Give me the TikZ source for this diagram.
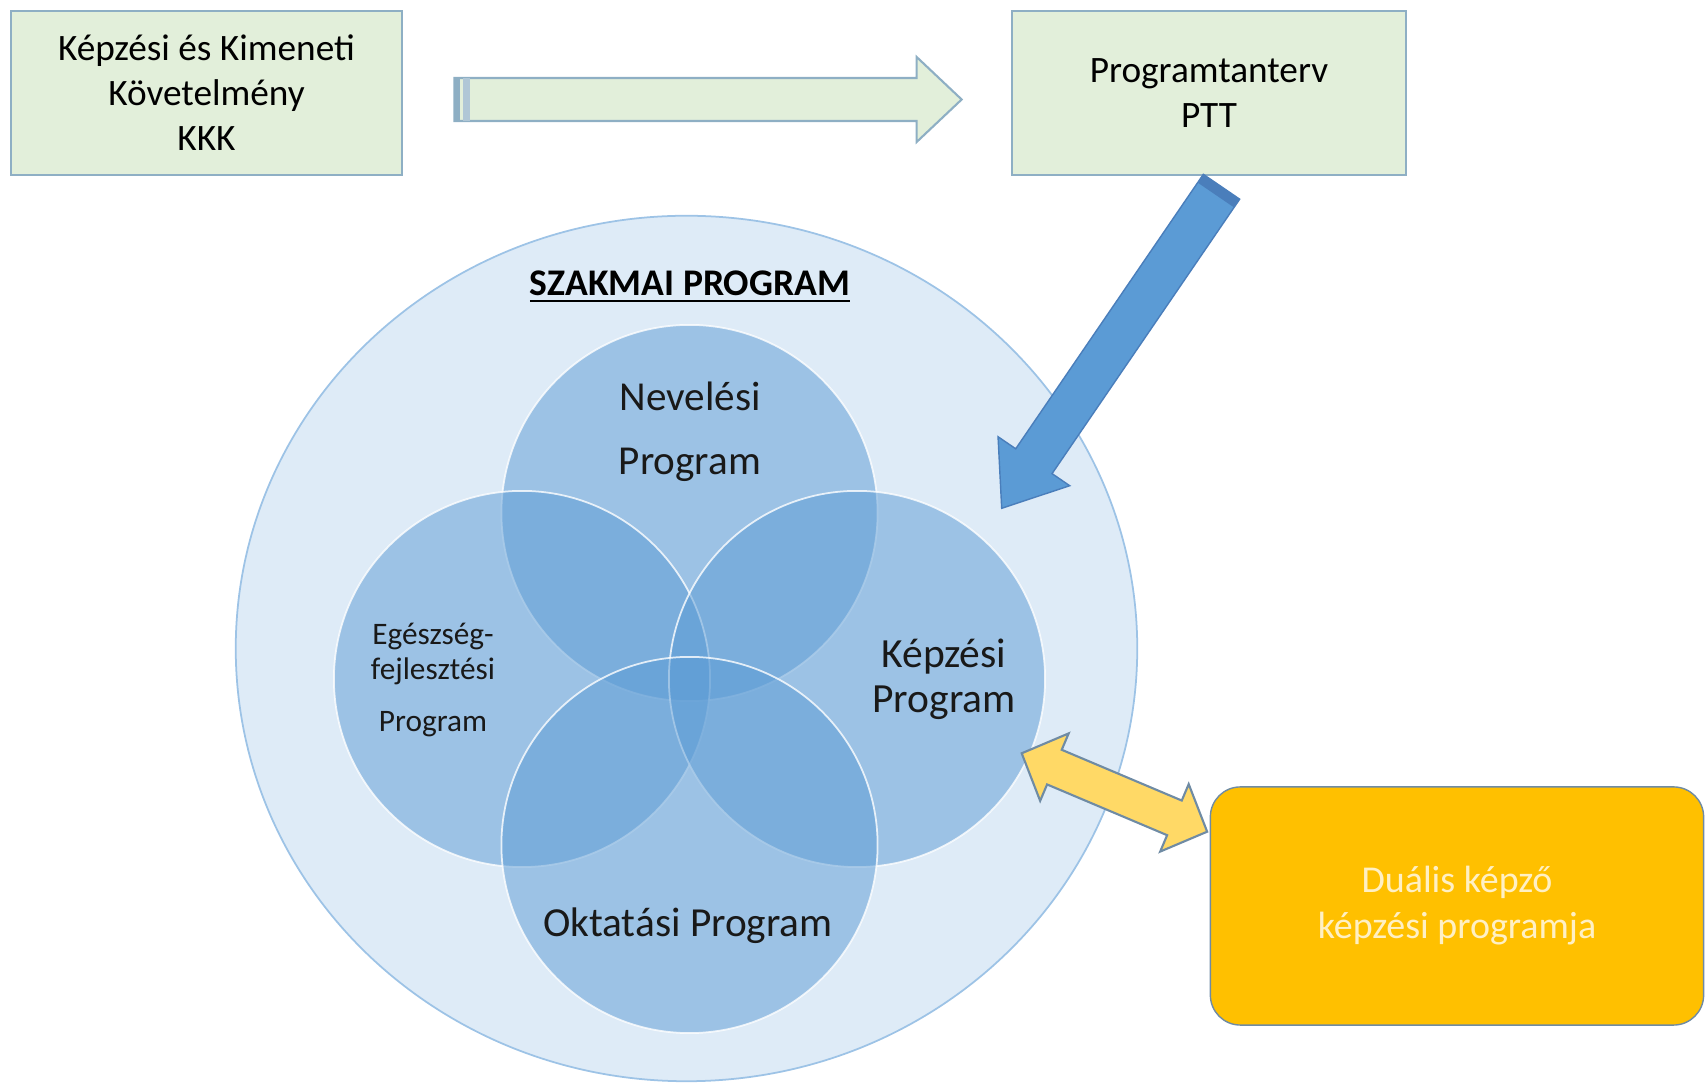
\documentclass[tikz,border=0pt]{standalone}
\usepackage{fontspec}
\setmainfont{Carlito}
\usetikzlibrary{calc}

\definecolor{boxgreen}{HTML}{E2EFDA}
\definecolor{boxline}{HTML}{8EAFC4}
\definecolor{ringblue}{HTML}{DEEBF7}
\definecolor{ringline}{HTML}{9DC3E6}
\definecolor{vennblue}{HTML}{5B9BD5}
\definecolor{arrowedge}{HTML}{4A7EBB}
\definecolor{dualyellow}{HTML}{FFC000}
\definecolor{duallight}{HTML}{FFD966}
\definecolor{dualedge}{HTML}{6F8BA4}
\definecolor{dualtext}{HTML}{FFF0C4}

\newcommand{\blockarrow}[6]{%
    \coordinate (ba-h) at ($(#3)!#6!(#2)$);
    \draw[#1] ($(#2)!#4!90:(#3)$) -- ($(ba-h)!#4!-90:(#2)$) -- ($(ba-h)!#5!-90:(#2)$) -- (#3)
        -- ($(ba-h)!#5!90:(#2)$) -- ($(ba-h)!#4!90:(#2)$) -- ($(#2)!#4!-90:(#3)$) -- cycle;
}
\newcommand{\bothwayarrow}[6]{%
    \coordinate (da-a) at ($(#2)!#6!(#3)$);
    \coordinate (da-b) at ($(#3)!#6!(#2)$);
    \draw[#1] (#2) -- ($(da-a)!#5!90:(#3)$) -- ($(da-a)!#4!90:(#3)$) -- ($(da-b)!#4!-90:(#2)$)
        -- ($(da-b)!#5!-90:(#2)$) -- (#3) -- ($(da-b)!#5!90:(#2)$) -- ($(da-b)!#4!90:(#2)$)
        -- ($(da-a)!#4!-90:(#3)$) -- ($(da-a)!#5!-90:(#3)$) -- cycle;
}

\begin{document}
\begin{tikzpicture}[x=0.01cm,y=-0.01cm,
    greenbox/.style={draw=boxline,fill=boxgreen,line width=0.7pt,minimum height=1.64cm,align=center,font=\fontsize{10.6}{12.8}\selectfont},
    venn/.style={circle,minimum size=3.76cm,fill=vennblue,fill opacity=0.5,draw=white,draw opacity=0.8,line width=0.5pt},
    venntext/.style={align=center,text=black!90}]
    \useasboundingbox (0,0) rectangle (1705,1083);
    \draw[fill=ringblue,draw=ringline,line width=0.5pt] (686.5,648.5) ellipse [x radius=4.505cm,y radius=4.325cm];
    \foreach \name/\x/\y in {nev/689.5/513, egesz/522/679, kepz/857/679, okt/689.5/845} {
        \node[venn] (\name) at (\x,\y) {};
    }
    \node[font=\bfseries\fontsize{10.7}{12}\selectfont] (title) at (690,287) {\underline{SZAKMAI PROGRAM}};
    \node[venntext,font=\fontsize{11.7}{18.2}\selectfont] (nevtext) at (690,432) {Nevelési\\Program};
    \node[venntext,font=\fontsize{8.9}{10}\selectfont] (egesztext) at (433,680) {Egészség-\\fejlesztési\\[4.8pt]Program};
    \node[venntext,font=\fontsize{11.8}{12.7}\selectfont] (kepztext) at (944,679) {Képzési\\Program};
    \node[venntext,font=\fontsize{11.75}{13}\selectfont] (okttext) at (688,926) {Oktatási Program};

    \node[greenbox,minimum width=3.91cm] (kkk) at (206.5,93) {Képzési és Kimeneti\\Követelmény\\KKK};
    \node[greenbox,minimum width=3.94cm] (ptt) at (1209,93) {Programtanterv\\PTT};

    \coordinate (greentail) at ($(kkk.east)+(51,6.5)$);
    \coordinate (greentip) at ($(ptt.west)+(-49,6.5)$);
    \blockarrow{fill=boxgreen,draw=boxline,line width=0.6pt}{greentail}{greentip}{0.215cm}{0.425cm}{0.45cm}
    \fill[boxline] ($(greentail)+(0,-21.5)$) rectangle ($(greentail)+(6,21.5)$);
    \fill[boxline!70] ($(greentail)+(9,-21.5)$) rectangle ($(greentail)+(16,21.5)$);

    \coordinate (bluetail) at ($(ptt.south)+(12.5,10.5)$);
    \coordinate (bluetip) at (1001.7,508.3);
    \blockarrow{fill=vennblue,draw=arrowedge,line width=0.4pt}{bluetail}{bluetip}{0.22cm}{0.434cm}{0.57cm}
    \coordinate (blueband) at ($(bluetail)!0.1cm!(bluetip)$);
    \fill[arrowedge] ($(bluetail)!0.22cm!90:(bluetip)$) -- ($(blueband)!0.22cm!-90:(bluetail)$)
        -- ($(blueband)!0.22cm!90:(bluetail)$) -- ($(bluetail)!0.22cm!-90:(bluetip)$) -- cycle;

    \node[draw=dualedge,fill=dualyellow,rounded corners=0.3cm,minimum width=4.93cm,minimum height=2.38cm,
        text=dualtext,align=center,font=\fontsize{10.8}{13.1}\selectfont] (dual) at (1457,906) {Duális képző\\képzési programja};
    \coordinate (yellowend) at (1021.7,753.3);
    \coordinate (yellowtip) at ($(dual.west)+(-2.5,-74.3)$);
    \bothwayarrow{fill=duallight,draw=dualedge,line width=0.6pt}{yellowend}{yellowtip}{0.188cm}{0.366cm}{0.355cm}
\end{tikzpicture}
\end{document}
